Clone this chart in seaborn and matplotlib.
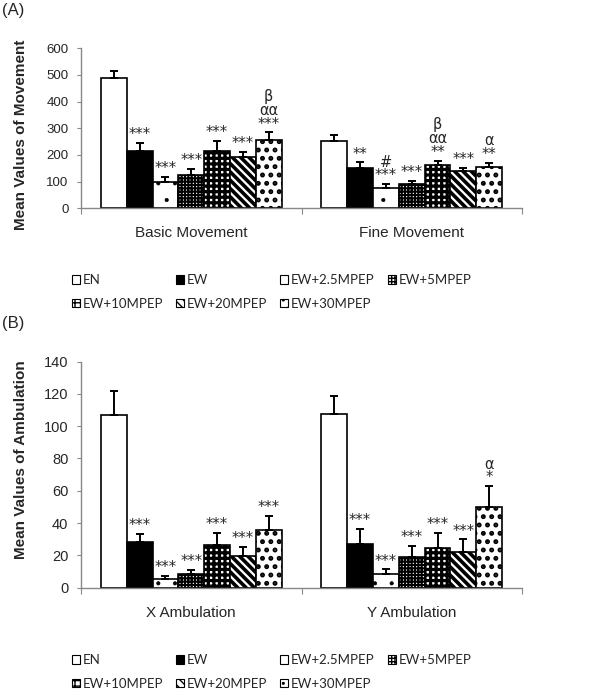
import pandas as pd
import matplotlib
matplotlib.use('Agg')
import matplotlib.pyplot as plt
from matplotlib.patches import Patch
import seaborn as sns

# groups and their look
groups = ['EN', 'EW', 'EW+2.5MPEP', 'EW+5MPEP', 'EW+10MPEP', 'EW+20MPEP', 'EW+30MPEP']
face = ['white', 'black', 'white', 'white', 'white', 'white', 'white']
hatches = ['', '', '.', '+++++', '+++', '\\\\\\\\', '..']
hatch_lw = [1.0, 1.0, 0.5, 1.5, 2.3, 2.6, 2.3]

# panel A: movement
cats_a = ['Basic Movement', 'Fine Movement']
basic_mean = [487, 216, 97, 125, 216, 193, 258]
basic_err = [29, 30, 21, 22, 36, 19, 27]
basic_marks = ['', '***', '***', '***', '***', '***', 'β\nαα\n***']
fine_mean = [254, 152, 76, 90, 162, 141, 156]
fine_err = [20, 20, 15, 14, 17, 11, 15]
fine_marks = ['', '**', '#\n***', '***', 'β\nαα\n**', '***', 'α\n**']

# panel B: ambulation
cats_b = ['X Ambulation', 'Y Ambulation']
xamb_mean = [107, 28, 5.2, 8.2, 26.4, 19.6, 35.5]
xamb_err = [15, 5.4, 2.2, 2.9, 7.6, 5.6, 9]
xamb_marks = ['', '***', '***', '***', '***', '***', '***']
yamb_mean = [107.6, 27.2, 8.2, 18.8, 24.7, 22.3, 50.1]
yamb_err = [11.4, 9.1, 3.1, 7.2, 9.3, 7.6, 12.8]
yamb_marks = ['', '***', '***', '***', '***', '***', 'α\n*']

sns.set_theme(style='white')
plt.rcParams['font.family'] = ['Liberation Sans', 'DejaVu Sans']
plt.rcParams['hatch.color'] = 'black'


def set_hlw(p, lw):
    try:
        p.set_hatch_linewidth(lw)
    except AttributeError:
        p._hatch_linewidth = lw


def panel(ax, cats, means, errs, marks, ymax, ystep, ylabel, tick_fs, label_y):
    df = pd.DataFrame({
        'cat': [c for c in cats for g in groups],
        'group': groups * len(cats),
        'value': [v for m in means for v in m],
    })
    sns.barplot(data=df, x='cat', y='value', hue='group', hue_order=groups,
                palette=face, edgecolor='black', linewidth=1.2, width=0.82,
                gap=0, errorbar=None, legend=False, ax=ax)
    bar_sets = list(ax.containers)
    for i, cont in enumerate(bar_sets):
        for j, bar in enumerate(cont):
            bar.set_hatch(hatches[i])
            set_hlw(bar, hatch_lw[i])
            x = bar.get_x() + bar.get_width() / 2
            y = bar.get_height()
            e = errs[j][i]
            ax.errorbar(x, y, yerr=[[0], [e]], fmt='none', ecolor='black',
                        elinewidth=1.4, capsize=2.8, capthick=1.4, zorder=5)
            if marks[j][i]:
                ax.annotate(marks[j][i], (x, y + e), xytext=(0, 0.5),
                            textcoords='offset points', ha='center', va='bottom',
                            fontsize=10.5, family='DejaVu Sans', linespacing=0.9)
    ax.set_ylim(0, ymax)
    ax.set_yticks(range(0, ymax + 1, ystep))
    ax.set_xlim(-0.5, 1.5)
    ax.set_xlabel('')
    ax.set_ylabel(ylabel, fontsize=11, fontweight='bold')
    ax.yaxis.set_label_coords(-0.12, label_y)
    ax.set_xticks([-0.5, 0.5, 1.5], minor=True)
    ax.tick_params(axis='x', which='major', length=0, pad=13, labelsize=11)
    ax.tick_params(axis='x', which='minor', bottom=True, length=4, width=0.8,
                   color='#888888', direction='out')
    ax.tick_params(axis='y', left=True, length=3, width=0.8, color='#888888',
                   direction='out', pad=6, labelsize=tick_fs)
    sns.despine(ax=ax)
    for s in ['left', 'bottom']:
        ax.spines[s].set_color('#888888')
        ax.spines[s].set_linewidth(1.0)


fig = plt.figure(figsize=(6, 6.97), dpi=100)
ax_a = fig.add_axes([81 / 600, 1 - 208.3 / 697, 441 / 600, 160 / 697])
ax_b = fig.add_axes([81 / 600, 1 - 587.6 / 697, 441 / 600, 226 / 697])

panel(ax_a, cats_a, [basic_mean, fine_mean], [basic_err, fine_err],
      [basic_marks, fine_marks], 600, 100, 'Mean Values of Movement', 9.5, 0.46)
panel(ax_b, cats_b, [xamb_mean, yamb_mean], [xamb_err, yamb_err],
      [xamb_marks, yamb_marks], 140, 20, 'Mean Values of Ambulation', 10.5, 0.565)

handles = []
for i, g in enumerate(groups):
    h = Patch(facecolor=face[i], edgecolor='black', hatch=hatches[i], linewidth=0.8, label=g)
    handles.append(h)
# legend fills by column, so interleave to read row by row
order = [0, 4, 1, 5, 2, 6, 3]
handles = [handles[k] for k in order]

for top in [274, 654]:
    leg = fig.legend(handles=handles, loc='upper left', ncol=4,
                     bbox_to_anchor=(72 / 600, 1 - top / 697), frameon=False,
                     borderpad=0, borderaxespad=0, handlelength=0.6, handleheight=0.6,
                     handletextpad=0.2, columnspacing=1.0, labelspacing=0.9,
                     prop={'family': 'Lato', 'size': 9.5})

fig.text(0.004, 0.996, '(A)', fontsize=12, va='top', ha='left')
fig.text(0.004, 1 - 316 / 697, '(B)', fontsize=12, va='top', ha='left')

fig.savefig('out.png', dpi=100)
